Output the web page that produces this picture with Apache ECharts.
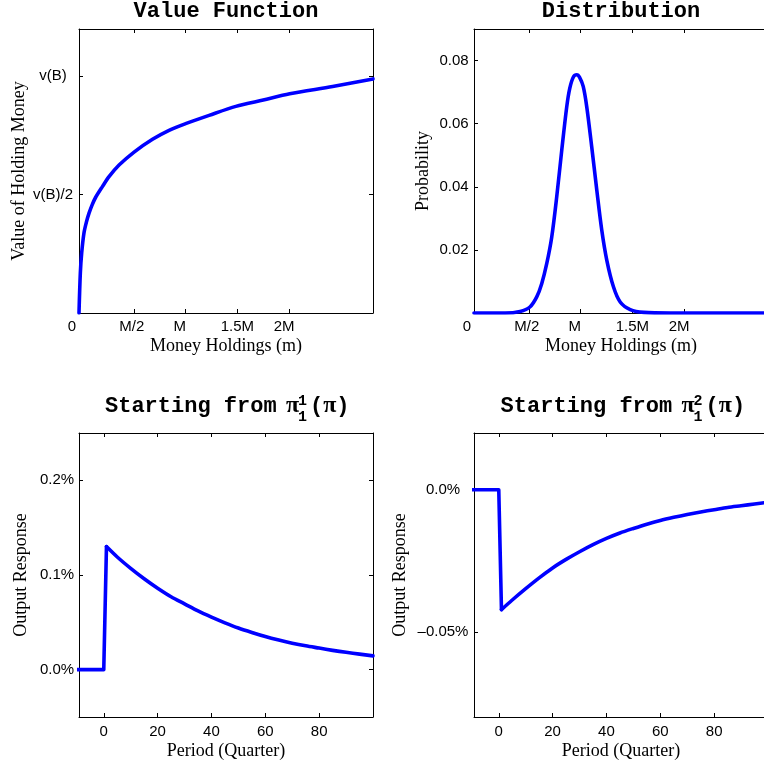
<!DOCTYPE html>
<html>
<head>
<meta charset="utf-8">
<title>Value Function, Distribution and Output Response</title>
<script src="https://cdn.jsdelivr.net/npm/echarts@6/dist/echarts.min.js"></script>
<style>
  html, body { margin: 0; padding: 0; background: #fff; }
  #container { width: 764px; height: 765px; }
</style>
</head>
<body>
<div id="container"></div>
<script>
// money holdings in units of M
var vfMoney = [0, 0.013, 0.026, 0.048, 0.072, 0.097, 0.128, 0.16, 0.226, 0.29, 0.387, 0.532, 0.71, 0.87, 1.03, 1.257, 1.515, 1.78, 2.035, 2.45, 2.84];
var vfValue = [0, 0.17, 0.254, 0.338, 0.385, 0.422, 0.458, 0.488, 0.534, 0.576, 0.625, 0.68, 0.734, 0.772, 0.80, 0.835, 0.873, 0.90, 0.926, 0.957, 0.989];

var distMoney = [0, 0.30, 0.445, 0.54, 0.606, 0.654, 0.703, 0.751, 0.799, 0.848, 0.896, 0.925, 0.96, 0.993, 1.02, 1.055, 1.089, 1.137, 1.186, 1.234, 1.283, 1.347, 1.412, 1.509, 1.64, 1.9, 2.84];
var distProb  = [0, 0, 0.0005, 0.0019, 0.0051, 0.0093, 0.0157, 0.0241, 0.0368, 0.0517, 0.0654, 0.0712, 0.0748, 0.0755, 0.0747, 0.0718, 0.0654, 0.0527, 0.039, 0.0263, 0.0167, 0.0083, 0.0035, 0.0011, 0.0002, 0, 0];

// impulse responses, in percent
var periods   = [-10, 0, 1, 5, 10, 15, 20, 25, 30, 35, 40, 45, 50, 55, 60, 65, 70, 75, 80, 85, 90, 95, 100];
var response1 = [0, 0, 0.130, 0.119, 0.107, 0.096, 0.086, 0.077, 0.0695, 0.062, 0.0555, 0.0495, 0.044, 0.0393, 0.035, 0.0313, 0.028, 0.0252, 0.0228, 0.0204, 0.0183, 0.0164, 0.0146];
var response2 = [0, 0, -0.0422, -0.0388, -0.0348, -0.031, -0.0275, -0.0245, -0.0218, -0.0193, -0.0171, -0.0152, -0.0136, -0.0121, -0.0108, -0.0097, -0.0087, -0.0078, -0.007, -0.0062, -0.0056, -0.005, -0.0044];

// ticks
var moneyTicks = [0, 0.53, 1.03, 1.53, 2.03];
var moneyTickLabels = ['0', 'M/2', 'M', '1.5M', '2M'];
var valueTicks = [0.5, 1];
var valueTickLabels = ['v(B)/2', 'v(B)'];
var probTicks = [0.02, 0.04, 0.06, 0.08];
var probTickLabels = ['0.02', '0.04', '0.06', '0.08'];
var periodTicks = [0, 20, 40, 60, 80];
var periodTickLabels = ['0', '20', '40', '60', '80'];
var resp1Ticks = [0, 0.1, 0.2];
var resp1TickLabels = ['0.0%', '0.1%', '0.2%'];
var resp2Ticks = [-0.05, 0];
var resp2TickLabels = ['\u20130.05%', '0.0%'];

var dom = document.getElementById('container');
var myChart = echarts.init(dom, null, { renderer: 'canvas' });

var BLUE = '#0000ff';
var SANS = 'Liberation Sans';
var SERIF = 'Liberation Serif';
var MONO = 'Liberation Mono';

function pairs(xs, ys) {
  return xs.map(function (x, i) { return [x, ys[i]]; });
}

function labelFor(ticks, labels) {
  return function (v) {
    for (var i = 0; i < ticks.length; i++) {
      if (Math.abs(ticks[i] - v) < 1e-9) return labels[i];
    }
    return '';
  };
}

// money labels sit a bit left of their ticks in the original
function moneyLabel(v) {
  for (var i = 0; i < moneyTicks.length; i++) {
    if (Math.abs(moneyTicks[i] - v) < 1e-9) return '{o' + i + '|' + moneyTickLabels[i] + '}';
  }
  return '';
}
var moneyRich = {
  o0: { padding: [0, 14, 0, 0] },
  o1: { padding: [0, 4, 0, 0] },
  o2: { padding: [0, 12, 0, 0] },
  o3: { padding: [0, 0, 0, 0] },
  o4: { padding: [0, 10, 0, 0] }
};

function lineAxis() {
  return { show: true, onZero: false, lineStyle: { color: '#000', width: 1 } };
}
function ticks(vals) {
  return { show: true, inside: true, length: 4, customValues: vals, lineStyle: { color: '#000', width: 1 } };
}

var grids = [
  { left: 79, top: 29, width: 294, height: 284 },
  { left: 474, top: 29, width: 294, height: 284 },
  { left: 79, top: 433, width: 294, height: 284 },
  { left: 474, top: 433, width: 294, height: 284 }
];
grids.forEach(function (g) { g.outerBoundsMode = 'none'; g.containLabel = false; });

var xAxes = [], yAxes = [];

function addPanel(gi, x, y) {
  xAxes.push({
    type: 'value', gridIndex: gi, position: 'bottom', min: x.min, max: x.max,
    axisLine: lineAxis(), axisTick: ticks(x.ticks), splitLine: { show: false },
    axisLabel: {
      customValues: x.ticks, formatter: x.fmt, rich: x.rich || {}, margin: x.margin,
      color: '#000', fontFamily: SANS, fontSize: 15
    },
    name: x.name, nameLocation: 'middle', nameGap: x.nameGap, nameMoveOverlap: false,
    nameTextStyle: { fontFamily: SERIF, fontSize: 18, color: '#000' }
  });
  xAxes.push({
    type: 'value', gridIndex: gi, position: 'top', min: x.min, max: x.max,
    axisLine: lineAxis(), axisTick: ticks(x.ticks), splitLine: { show: false },
    axisLabel: { show: false }
  });
  yAxes.push({
    type: 'value', gridIndex: gi, position: 'left', min: y.min, max: y.max,
    axisLine: lineAxis(), axisTick: ticks(y.ticks), splitLine: { show: false },
    axisLabel: {
      customValues: y.ticks, formatter: y.fmt, margin: y.margin, align: 'center',
      color: '#000', fontFamily: SANS, fontSize: 15
    },
    name: y.name, nameLocation: 'middle', nameGap: y.nameGap, nameMoveOverlap: false,
    nameTextStyle: { fontFamily: SERIF, fontSize: 18, color: '#000' }
  });
  yAxes.push({
    type: 'value', gridIndex: gi, position: 'right', min: y.min, max: y.max,
    axisLine: lineAxis(), axisTick: ticks(y.ticks), splitLine: { show: false },
    axisLabel: { show: false }
  });
}

addPanel(0,
  { min: 0, max: 2.84, ticks: moneyTicks, fmt: moneyLabel, rich: moneyRich, margin: 6, name: 'Money Holdings (m)', nameGap: 24 },
  { min: 0, max: 1.2, ticks: valueTicks, fmt: labelFor(valueTicks, valueTickLabels), margin: 26, name: 'Value of Holding Money', nameGap: 51 });
addPanel(1,
  { min: 0, max: 2.84, ticks: moneyTicks, fmt: moneyLabel, rich: moneyRich, margin: 6, name: 'Money Holdings (m)', nameGap: 24 },
  { min: 0, max: 0.09, ticks: probTicks, fmt: labelFor(probTicks, probTickLabels), margin: 20, name: 'Probability', nameGap: 42 });
addPanel(2,
  { min: -9.2, max: 100, ticks: periodTicks, fmt: labelFor(periodTicks, periodTickLabels), margin: 7, name: 'Period (Quarter)', nameGap: 25 },
  { min: -0.05, max: 0.25, ticks: resp1Ticks, fmt: labelFor(resp1Ticks, resp1TickLabels), margin: 22, name: 'Output Response', nameGap: 49 });
addPanel(3,
  { min: -9.2, max: 100, ticks: periodTicks, fmt: labelFor(periodTicks, periodTickLabels), margin: 7, name: 'Period (Quarter)', nameGap: 25 },
  { min: -0.08, max: 0.02, ticks: resp2Ticks, fmt: labelFor(resp2Ticks, resp2TickLabels), margin: 31, name: 'Output Response', nameGap: 65 });

function curve(gi, data, smooth) {
  return {
    type: 'line', xAxisIndex: gi * 2, yAxisIndex: gi * 2, data: data,
    showSymbol: false, symbol: 'none', clip: true, smooth: smooth,
    lineStyle: { color: BLUE, width: 3.6, join: 'round', cap: 'round' },
    itemStyle: { color: BLUE }
  };
}

// flat stretch and jump drawn straight, the decay drawn smooth
function responseSeries(gi, ys) {
  var all = pairs(periods, ys);
  return [curve(gi, all.slice(0, 3), false), curve(gi, all.slice(2), 0.3)];
}

var monoBold = { fontFamily: MONO, fontWeight: 'bold', fontSize: 22, lineHeight: 20, color: '#000' };
var piStyle = { fontFamily: SERIF, fontSize: 24, lineHeight: 20, color: '#000' };
var idxStyle = { fontFamily: MONO, fontWeight: 'bold', fontSize: 15, lineHeight: 15, color: '#000' };

function startTitles(x0, sup) {
  return [
    { text: 'Starting from', left: x0, top: 396, padding: 0, textStyle: monoBold },
    { text: '\u03c0', left: x0 + 181, top: 396, padding: 0, textStyle: piStyle },
    { text: sup, left: x0 + 193, top: 394, padding: 0, textStyle: idxStyle },
    { text: '1', left: x0 + 193, top: 410, padding: 0, textStyle: idxStyle },
    {
      text: '{m|(}{p|\u03c0}{m|)}', left: x0 + 205, top: 396, padding: 0,
      textStyle: { rich: { m: monoBold, p: piStyle } }
    }
  ];
}

var option = {
  animation: false,
  backgroundColor: '#fff',
  title: [
    { text: 'Value Function', left: 226, top: 1, textAlign: 'center', padding: 0, textStyle: monoBold },
    { text: 'Distribution', left: 621, top: 1, textAlign: 'center', padding: 0, textStyle: monoBold }
  ].concat(startTitles(105, '1')).concat(startTitles(500.6, '2')),
  grid: grids,
  xAxis: xAxes,
  yAxis: yAxes,
  series: [
    curve(0, pairs(vfMoney, vfValue), 0.3),
    curve(1, pairs(distMoney, distProb), 0.3)
  ].concat(responseSeries(2, response1)).concat(responseSeries(3, response2))
};

myChart.setOption(option);
window.addEventListener('resize', myChart.resize);
</script>
</body>
</html>
